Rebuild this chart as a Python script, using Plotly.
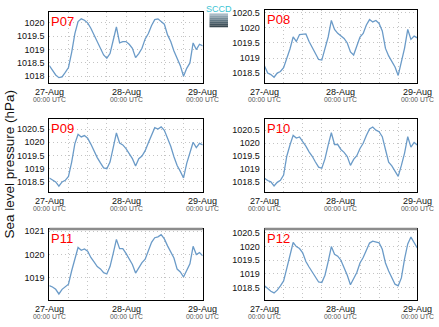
import plotly.graph_objects as go
import pandas as pd

# ---------------- data (hourly, 27-Aug 00:00 UTC .. 29-Aug 00:00 UTC) ----------------
times = pd.date_range("2016-08-27 00:00", periods=49, freq="h")

p07 = [1018.40, 1018.20, 1018.05, 1017.95, 1017.98, 1018.15, 1018.33, 1018.90, 1019.60, 1020.05,
       1020.15, 1020.10, 1020.00, 1019.80, 1019.55, 1019.35, 1019.05, 1018.80, 1018.68, 1018.85,
       1019.35, 1019.85, 1019.25, 1019.30, 1019.30, 1019.20, 1019.05, 1018.70, 1018.85, 1019.05,
       1019.40, 1019.60, 1019.90, 1020.12, 1020.15, 1020.06, 1019.95, 1019.55, 1019.30, 1018.95,
       1018.70, 1018.40, 1018.00, 1018.30, 1018.50, 1019.25, 1019.00, 1019.20, 1019.14]
p08 = [1018.73, 1018.50, 1018.45, 1018.36, 1018.50, 1018.55, 1018.68, 1018.98, 1019.30, 1019.70,
       1019.55, 1019.78, 1019.80, 1019.80, 1019.55, 1019.35, 1019.15, 1018.95, 1018.93, 1019.30,
       1019.70, 1020.25, 1019.95, 1019.82, 1019.73, 1019.65, 1019.50, 1019.20, 1019.10, 1019.42,
       1019.70, 1019.82, 1020.10, 1020.28, 1020.20, 1020.25, 1020.15, 1019.90, 1019.32, 1019.07,
       1018.90, 1018.70, 1018.42, 1018.90, 1019.33, 1019.95, 1019.62, 1019.73, 1019.67]
p09 = [1018.65, 1018.56, 1018.50, 1018.34, 1018.50, 1018.56, 1018.71, 1019.25, 1019.95, 1020.30,
       1020.20, 1020.25, 1020.15, 1019.93, 1019.64, 1019.42, 1019.22, 1019.03, 1019.00, 1019.25,
       1019.80, 1020.35, 1019.97, 1019.90, 1019.76, 1019.57, 1019.38, 1019.10, 1019.38, 1019.48,
       1019.68, 1019.98, 1020.27, 1020.55, 1020.50, 1020.58, 1020.45, 1020.15, 1019.85, 1019.45,
       1019.12, 1018.90, 1018.65, 1019.20, 1019.57, 1020.00, 1019.80, 1019.96, 1019.90]
p10 = [1018.66, 1018.57, 1018.52, 1018.36, 1018.50, 1018.58, 1018.78, 1019.50, 1019.93, 1020.30,
       1020.20, 1020.24, 1020.06, 1019.89, 1019.67, 1019.50, 1019.28, 1019.08, 1019.04, 1019.40,
       1019.93, 1020.40, 1019.95, 1019.95, 1019.76, 1019.65, 1019.49, 1019.15, 1019.38, 1019.52,
       1019.80, 1020.00, 1020.30, 1020.55, 1020.62, 1020.50, 1020.44, 1020.25, 1019.76, 1019.27,
       1019.13, 1018.92, 1018.73, 1019.15, 1019.62, 1020.25, 1019.85, 1020.03, 1019.93]
p11 = [1018.66, 1018.60, 1018.50, 1018.30, 1018.50, 1018.60, 1018.72, 1019.30, 1019.85, 1020.30,
       1020.18, 1020.24, 1020.14, 1019.87, 1019.68, 1019.48, 1019.38, 1019.22, 1019.16, 1019.48,
       1020.05, 1020.65, 1020.25, 1020.25, 1020.05, 1019.80, 1019.57, 1019.20, 1019.45, 1019.65,
       1019.80, 1020.20, 1020.52, 1020.72, 1020.76, 1020.85, 1020.67, 1020.37, 1020.12, 1019.85,
       1019.37, 1019.25, 1019.03, 1019.30, 1019.60, 1020.35, 1020.00, 1020.08, 1019.94]
p12 = [1018.56, 1018.46, 1018.36, 1018.30, 1018.40, 1018.56, 1018.74, 1019.20, 1019.70, 1020.15,
       1020.00, 1019.93, 1019.77, 1019.45, 1019.25, 1019.05, 1018.87, 1018.70, 1018.68, 1018.95,
       1019.45, 1020.00, 1019.72, 1019.65, 1019.50, 1019.25, 1018.95, 1018.60, 1018.82, 1019.05,
       1019.40, 1019.60, 1019.87, 1020.13, 1020.20, 1020.18, 1020.14, 1019.90, 1019.40, 1019.10,
       1018.83, 1018.62, 1018.56, 1018.85, 1019.55, 1020.10, 1020.35, 1020.15, 1019.95]

stations = ["P07", "P08", "P09", "P10", "P11", "P12"]
series = [p07, p08, p09, p10, p11, p12]
y_ranges = [[1017.74, 1020.41], [1018.16, 1020.59], [1018.11, 1020.87],
            [1018.12, 1020.92], [1018.03, 1021.10], [1018.03, 1020.65]]
y_ticks = [[1018, 1018.5, 1019, 1019.5, 1020],
           [1018.5, 1019, 1019.5, 1020, 1020.5],
           [1018.5, 1019, 1019.5, 1020, 1020.5],
           [1018.5, 1019, 1019.5, 1020, 1020.5],
           [1019, 1020, 1021],
           [1018.5, 1019, 1019.5, 1020, 1020.5]]
x_grid = pd.date_range("2016-08-27 00:00", "2016-08-29 00:00", freq="6h")
x_major = ["2016-08-27 00:00", "2016-08-28 00:00", "2016-08-29 00:00"]
x_major_text = ["27-Aug", "28-Aug", "29-Aug"]
sub_text = "00:00 UTC"
y_title = "Sea level pressure (hPa)"

# ---------------- layout geometry (pixels) ----------------
W, H = 439, 327
col_px = [(49.3, 202.7), (264.5, 417.3)]
row_px = [[(9.0, 81.0), (7.3, 81.0)], [(117.3, 191.0), (117.3, 191.0)], [(228.0, 300.0), (228.0, 300.0)]]

FONT = "Liberation Sans, Arial, sans-serif"
LINE = "#6b9bc8"
GRID = "#c4c4c4"

fig = go.Figure()
layout = dict(width=W, height=H, margin=dict(l=0, r=0, t=0, b=0),
              paper_bgcolor="white", plot_bgcolor="white", showlegend=False,
              font=dict(family=FONT, size=9, color="#111"))
annotations = []
shapes = []

for i, (name, vals) in enumerate(zip(stations, series)):
    r, c = divmod(i, 2)
    x0, x1 = col_px[c]
    top, bot = row_px[r][c]
    xd = [x0 / W, x1 / W]
    yd = [1 - bot / H, 1 - top / H]
    k = "" if i == 0 else str(i + 1)
    fig.add_trace(go.Scatter(x=times, y=vals, mode="lines", xaxis="x" + k, yaxis="y" + k,
                             line=dict(color=LINE, width=1.3), hoverinfo="skip"))
    layout["xaxis" + k] = dict(domain=xd, anchor="y" + k, type="date",
                               range=[x_major[0], x_major[-1]],
                               tickmode="array", tickvals=list(x_grid),
                               showticklabels=False,
                               showgrid=True, gridcolor=GRID, griddash="1px,3px", gridwidth=1,
                               showline=True, linecolor="black", linewidth=1, mirror=True,
                               ticks="", zeroline=False, fixedrange=True)
    layout["yaxis" + k] = dict(domain=yd, anchor="x" + k, range=y_ranges[i],
                               tickmode="array", tickvals=y_ticks[i],
                               ticktext=[("%g" % v) for v in y_ticks[i]],
                               showgrid=True, gridcolor=GRID, griddash="1px,3px", gridwidth=1,
                               showline=True, linecolor="black", linewidth=1, mirror=True,
                               ticks="", tickfont=dict(size=9, color="#111"),
                               ticklabelstandoff=2, zeroline=False, fixedrange=True)
    # station label
    annotations.append(dict(text=name, xref="x" + k + " domain", yref="y" + k + " domain",
                            x=0.0, y=1.0, xanchor="left", yanchor="top", showarrow=False,
                            font=dict(size=13, color="red", family=FONT)))
    # date labels with "00:00 UTC" beneath
    for t, lab in zip(x_major, x_major_text):
        annotations.append(dict(text=lab, xref="x" + k, yref="paper",
                                x=t, y=1 - (bot + 8.7) / H, xanchor="center", yanchor="middle",
                                showarrow=False, font=dict(size=9, color="#111", family=FONT)))
        annotations.append(dict(text=sub_text, xref="x" + k, yref="paper",
                                x=t, y=1 - (bot + 16.7) / H, xanchor="center", yanchor="middle",
                                showarrow=False, font=dict(size=6.8, color="#555", family=FONT)))
    if r == 2:
        shapes.append(dict(type="line", xref="paper", yref="paper", x0=xd[0], x1=xd[1],
                           y0=yd[1], y1=yd[1], line=dict(color="#8c8c8c", width=2.5)))

# y-axis title
annotations.append(dict(text=y_title, xref="paper", yref="paper", x=10 / W, y=1 - 163 / H,
                        textangle=-90, showarrow=False, xanchor="center", yanchor="middle",
                        font=dict(size=13.5, color="#111", family=FONT)))

# SCCD logo
logo_cols = ["#a9bcc6", "#8ea3af", "#778d99", "#627884", "#506570", "#42545e", "#38474f"]
lx0, lx1, ly0, ly1 = 209.5, 228.0, 10.5, 24.5
step = (ly1 - ly0) / len(logo_cols)
for j, col in enumerate(logo_cols):
    shapes.append(dict(type="rect", xref="paper", yref="paper", x0=lx0 / W, x1=lx1 / W,
                       y0=1 - (ly0 + (j + 1) * step) / H, y1=1 - (ly0 + j * step) / H,
                       fillcolor=col, line=dict(width=0), layer="above"))
annotations.append(dict(text="SCCD", xref="paper", yref="paper", x=(lx0 + lx1) / 2 / W,
                        y=1 - 6.0 / H, xanchor="center", yanchor="middle", showarrow=False,
                        font=dict(size=9, color="#3cc4d4", family=FONT)))

layout["annotations"] = annotations
layout["shapes"] = shapes
fig.update_layout(**layout)
fig.write_html("out.html")
